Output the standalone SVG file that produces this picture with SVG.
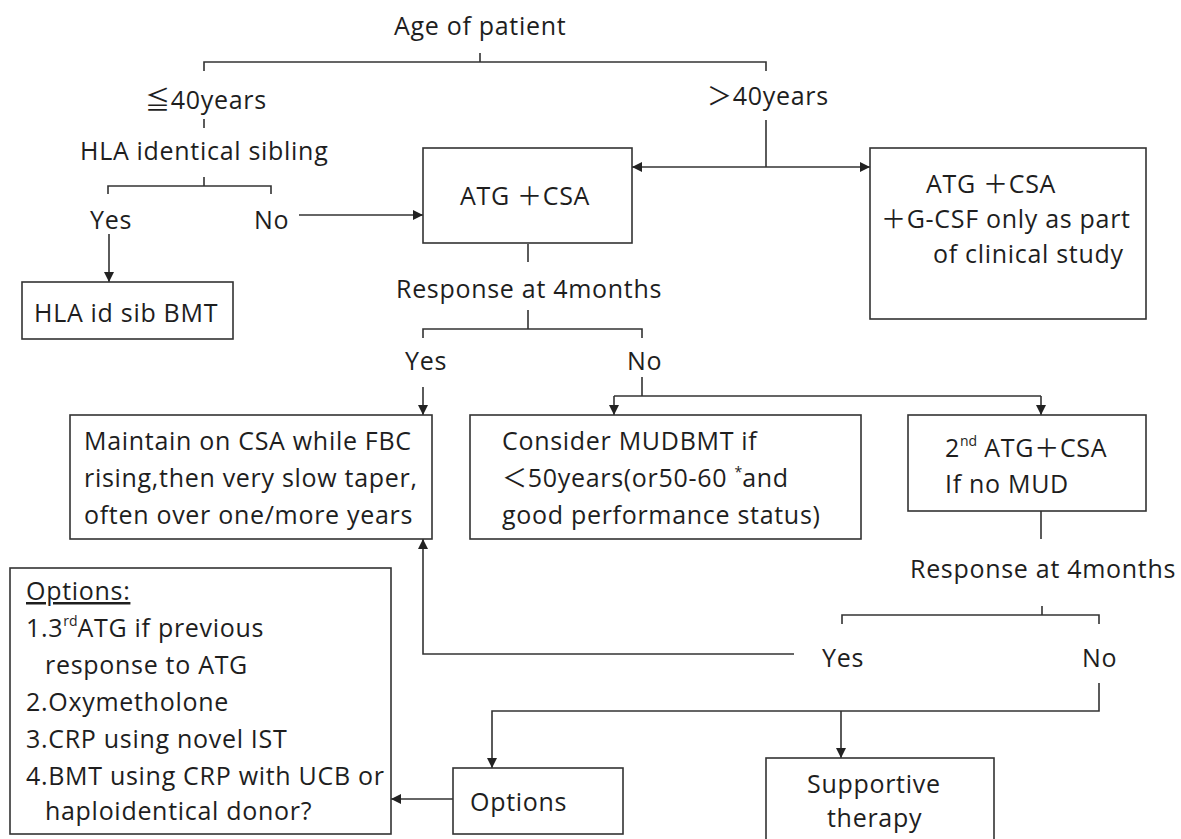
<svg xmlns="http://www.w3.org/2000/svg" width="1181" height="839" viewBox="0 0 1181 839">
<defs>
<style>
text{font-family:"Open Sans","Noto Sans","Noto Sans CJK JP",sans-serif;font-size:25px;letter-spacing:0.7px;fill:#1e1e1e}
.box{fill:#fff;stroke:#333;stroke-width:1.6}
.ln{fill:none;stroke:#333;stroke-width:1.6}
.sup{font-size:14px;letter-spacing:0}
</style>
<marker id="arr" viewBox="0 0 10 10" refX="10" refY="5" markerWidth="10" markerHeight="10" markerUnits="userSpaceOnUse" orient="auto">
<path d="M0,0 L10,5 L0,10 z" fill="#222"/>
</marker>
</defs>
<rect width="1181" height="839" fill="#fff"/>
<g id="connectors">
<path class="ln" d="M480,53 V62 M204,71 V62 H766 V71"/>
<path class="ln" d="M204,119 V128"/>
<path class="ln" d="M204,177 V186 M108,194 V186 H271 V194"/>
<path class="ln" d="M299,215 H423" marker-end="url(#arr)"/>
<path class="ln" d="M109,234 V282" marker-end="url(#arr)"/>
<path class="ln" d="M766,120 V167"/>
<path class="ln" d="M766,167 H632" marker-end="url(#arr)"/>
<path class="ln" d="M766,167 H870" marker-end="url(#arr)"/>
<path class="ln" d="M528,244 V262"/>
<path class="ln" d="M528,310 V329 M423,338 V329 H642 V338"/>
<path class="ln" d="M423,387 V415" marker-end="url(#arr)"/>
<path class="ln" d="M642,377 V396 M614,396 H1041"/>
<path class="ln" d="M614,396 V415" marker-end="url(#arr)"/>
<path class="ln" d="M1041,396 V415" marker-end="url(#arr)"/>
<path class="ln" d="M1041,511 V539"/>
<path class="ln" d="M1042,606 V615 M842,624 V615 H1099 V624"/>
<path class="ln" d="M794,654 H423 V539" marker-end="url(#arr)"/>
<path class="ln" d="M1099,683 V711 H492 V768" marker-end="url(#arr)"/>
<path class="ln" d="M841,711 V758" marker-end="url(#arr)"/>
<path class="ln" d="M453,799 H391" marker-end="url(#arr)"/>
</g>
<g id="labels">
<text x="394" y="35">Age of patient</text>
<text x="145" y="109">≦40years</text>
<text x="707" y="105">＞40years</text>
<text x="80" y="160">HLA identical sibling</text>
<text x="90" y="229">Yes</text>
<text x="254" y="229">No</text>
<text x="396" y="298">Response at 4months</text>
<text x="405" y="370">Yes</text>
<text x="627" y="370">No</text>
<text x="910" y="578">Response at 4months</text>
<text x="822" y="667">Yes</text>
<text x="1082" y="667">No</text>
</g>
<g id="hla_bmt">
<rect class="box" x="22" y="282" width="211" height="57"/>
<text x="34" y="322">HLA id sib BMT</text>
</g>
<g id="atg_csa">
<rect class="box" x="423" y="148" width="209" height="95"/>
<text x="460" y="205">ATG ＋CSA</text>
</g>
<g id="atg_csa_gcsf">
<rect class="box" x="870" y="148" width="276" height="171"/>
<text x="926" y="193">ATG ＋CSA</text>
<text x="881" y="228">＋G-CSF only as part</text>
<text x="933" y="263">of clinical study</text>
</g>
<g id="maintain">
<rect class="box" x="70" y="415" width="362" height="124"/>
<text x="84" y="450">Maintain on CSA while FBC</text>
<text x="84" y="487">rising,then very slow taper,</text>
<text x="84" y="524">often over one/more years</text>
</g>
<g id="consider">
<rect class="box" x="470" y="415" width="391" height="124"/>
<text x="502" y="450">Consider MUDBMT if</text>
<text x="502" y="487">＜50years(or50-60 <tspan class="sup" dy="-10">*</tspan><tspan dy="10">and</tspan></text>
<text x="502" y="524">good performance status)</text>
</g>
<g id="atg2">
<rect class="box" x="908" y="415" width="238" height="96"/>
<text x="945" y="457">2<tspan class="sup" dy="-11">nd</tspan><tspan dy="11"> ATG＋CSA</tspan></text>
<text x="945" y="493">If no MUD</text>
</g>
<g id="options_list">
<rect class="box" x="10" y="568" width="381" height="266"/>
<text x="26" y="600" text-decoration="underline">Options:</text>
<text x="26" y="637">1.3<tspan class="sup" dy="-11">rd</tspan><tspan dy="11">ATG if previous</tspan></text>
<text x="45" y="674">response to ATG</text>
<text x="26" y="711">2.Oxymetholone</text>
<text x="26" y="748">3.CRP using novel IST</text>
<text x="26" y="785">4.BMT using CRP with UCB or</text>
<text x="45" y="820">haploidentical donor?</text>
</g>
<g id="options">
<rect class="box" x="453" y="768" width="170" height="66"/>
<text x="470" y="811">Options</text>
</g>
<g id="supportive">
<rect class="box" x="766" y="758" width="228" height="90"/>
<text x="807" y="793">Supportive</text>
<text x="827" y="827">therapy</text>
</g>
</svg>
